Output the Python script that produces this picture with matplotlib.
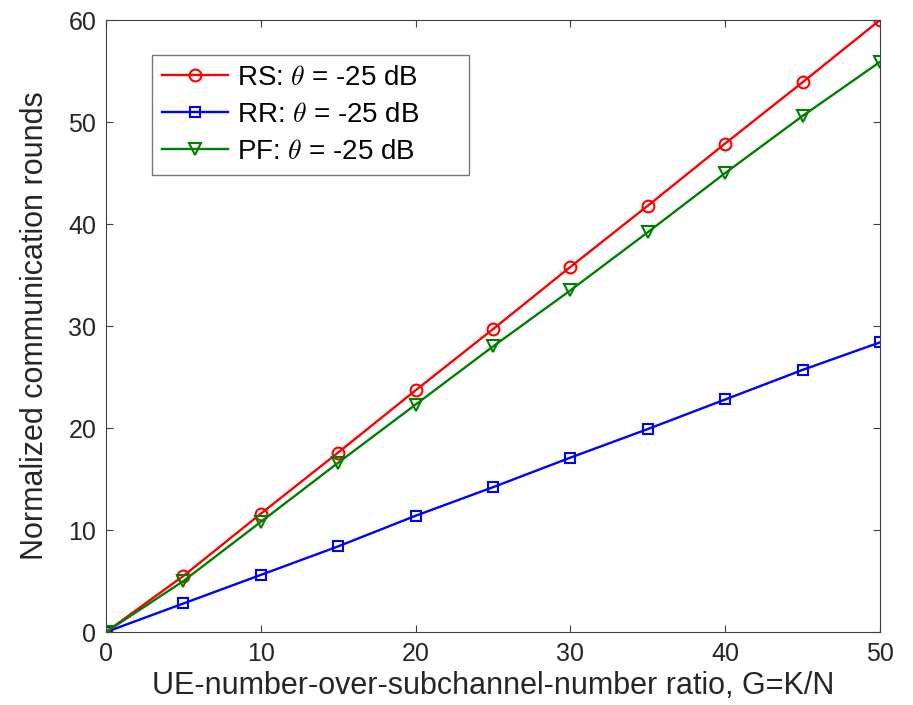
import matplotlib.pyplot as plt

# Data
G = [0, 5, 10, 15, 20, 25, 30, 35, 40, 45, 50]
rs_rounds = [0, 5.5, 11.6, 17.6, 23.7, 29.7, 35.8, 41.8, 47.9, 53.9, 60.0]
rr_rounds = [0, 2.8, 5.6, 8.4, 11.4, 14.2, 17.1, 19.9, 22.8, 25.7, 28.4]
pf_rounds = [0, 5.0, 10.8, 16.6, 22.3, 28.0, 33.5, 39.2, 45.0, 50.6, 55.9]
labels = [r'RS: $\theta$ = -25 dB', r'RR: $\theta$ = -25 dB', r'PF: $\theta$ = -25 dB']

plt.rcParams['font.family'] = ['Liberation Sans', 'DejaVu Sans']
plt.rcParams['mathtext.fontset'] = 'cm'

fig = plt.figure(figsize=(9.13, 7.05), dpi=100)
ax = fig.add_axes([0.1161, 0.1035, 0.8477, 0.868])

ax.plot(G, rs_rounds, color='red', marker='o', markersize=8.5, markerfacecolor='none',
        markeredgewidth=1.5, linewidth=1.7)
ax.plot(G, rr_rounds, color='blue', marker='s', markersize=6.5, markerfacecolor='none',
        markeredgewidth=1.5, linewidth=1.7)
ax.plot(G, pf_rounds, color='green', marker='v', markersize=9, markerfacecolor='none',
        markeredgewidth=1.5, linewidth=1.7)

ax.set_xlim(0, 50)
ax.set_ylim(0, 60)
ax.set_xticks(range(0, 51, 10))
ax.set_yticks(range(0, 61, 10))
ax.tick_params(direction='in', top=True, right=True, labelsize=18, length=5,
               color='#404040', labelcolor='#262626', pad=7)
for s in ax.spines.values():
    s.set_color('#404040')
    s.set_linewidth(0.8)

ax.set_xlabel('UE-number-over-subchannel-number ratio, G=K/N', fontsize=22,
              color='#262626', labelpad=4)
ax.set_ylabel('Normalized communication rounds', fontsize=22, color='#262626', labelpad=13)

# MATLAB-style legend leaves some blank room right of the text
leg = ax.legend([l + '      ' for l in labels], loc='upper left',
                bbox_to_anchor=(0.0594, 0.943), borderaxespad=0,
                fontsize=20, frameon=True, fancybox=False, edgecolor='#555555',
                handlelength=2.4, handletextpad=0.3, borderpad=0.35, labelspacing=0.4)
leg.get_frame().set_linewidth(1.0)

fig.savefig('out.png', dpi=100)
